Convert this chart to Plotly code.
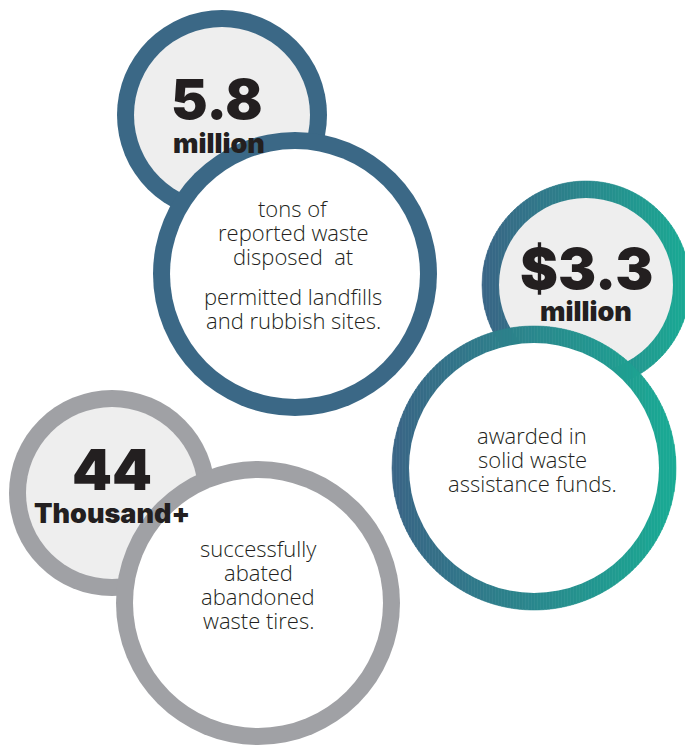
import plotly.graph_objects as go
import numpy as np

# ---- data ----
big_numbers = ["5.8", "$3.3", "44"]
units = ["million", "million", "Thousand+"]
descriptions = [
    ["tons of", "reported waste", "disposed  at", "", "permitted landfills", "and rubbish sites."],
    ["awarded in", "solid waste", "assistance funds."],
    ["successfully", "abated", "abandoned", "waste tires."],
]

# ---- layout constants ----
W, H = 685, 745
STROKE = 17
# (small circle cx, cy, R), (big circle cx, cy, R)
small_c = [(222, 115, 105), (586, 285, 104), (112, 493, 103)]
big_c = [(295, 274, 142), (534, 468, 142), (258, 603, 142)]
ring_style = ["solid", "gradient", "solid"]
ring_color = ["#3b6886", None, "#a0a1a5"]
grad_from = np.array([0x3a, 0x65, 0x86])
grad_to = np.array([0x1a, 0xab, 0x94])
small_fill = "#eeeeee"
big_fill = "#ffffff"
text_color = "#231f20"

num_pos = [(217, 99), (586, 268), (112, 469)]
num_size = [55, 57, 57]
unit_pos = [(219, 143), (586, 311), (112, 513)]
unit_size = 27
desc_pos = [(293, 208), (532, 435), (258, 548)]
desc_step = 24
desc_size = 22

shapes = []


def disk(cx, cy, r, color):
    shapes.append(dict(type="circle", xref="x", yref="y", x0=cx - r, x1=cx + r,
                       y0=cy - r, y1=cy + r, fillcolor=color, line=dict(width=0),
                       layer="above"))


def grad_disk(cx, cy, r):
    step = 1.5
    xs = np.arange(cx - r, cx + r + step, step)
    xs[-1] = cx + r
    for a, b in zip(xs[:-1], xs[1:]):
        sub = np.linspace(a, b, 4)
        h = np.sqrt(np.clip(r * r - (sub - cx) ** 2, 0, None))
        t = ((a + b) / 2 - (cx - r)) / (2 * r)
        c = grad_from + (grad_to - grad_from) * t
        col = "rgb(%d,%d,%d)" % tuple(np.round(c).astype(int))
        pts = [(x, cy - y) for x, y in zip(sub, h)] + [(x, cy + y) for x, y in zip(sub[::-1], h[::-1])]
        path = "M " + " L ".join("%.2f,%.2f" % p for p in pts) + " Z"
        shapes.append(dict(type="path", xref="x", yref="y", path=path, fillcolor=col,
                           line=dict(color=col, width=0.6), layer="above"))


for i in range(3):
    for (cx, cy, r), fill in ((small_c[i], small_fill), (big_c[i], big_fill)):
        if ring_style[i] == "gradient":
            grad_disk(cx, cy, r)
        else:
            disk(cx, cy, r, ring_color[i])
        disk(cx, cy, r - STROKE, fill)

ann = []
heavy = dict(family="Inter, 'Liberation Sans', sans-serif", color=text_color, weight=900)
for i in range(3):
    ann.append(dict(x=num_pos[i][0], y=num_pos[i][1], text=big_numbers[i], showarrow=False,
                    xanchor="center", yanchor="middle",
                    font=dict(heavy, size=num_size[i])))
    ann.append(dict(x=unit_pos[i][0], y=unit_pos[i][1], text=units[i], showarrow=False,
                    xanchor="center", yanchor="middle", font=dict(heavy, size=unit_size)))
    x0, y0 = desc_pos[i]
    for k, line in enumerate(descriptions[i]):
        if not line:
            continue
        shift = -8 if (i == 0 and k >= 4) else 0
        ann.append(dict(x=x0, y=y0 + k * desc_step + shift,
                        text=line, showarrow=False, xanchor="center", yanchor="middle",
                        font=dict(family="'Open Sans', sans-serif", size=desc_size,
                                  color=text_color, weight=300)))

fig = go.Figure()
fig.add_trace(go.Scatter(x=[0, W], y=[0, H], mode="markers", marker=dict(opacity=0),
                         hoverinfo="skip", showlegend=False))
fig.update_layout(
    width=W, height=H, autosize=False,
    margin=dict(l=0, r=0, t=0, b=0, pad=0),
    paper_bgcolor="white", plot_bgcolor="white",
    xaxis=dict(range=[0, W], visible=False, fixedrange=True),
    yaxis=dict(range=[H, 0], visible=False, fixedrange=True),
    shapes=shapes, annotations=ann, showlegend=False,
)
fig.write_html("out.html", config={"displayModeBar": False})
